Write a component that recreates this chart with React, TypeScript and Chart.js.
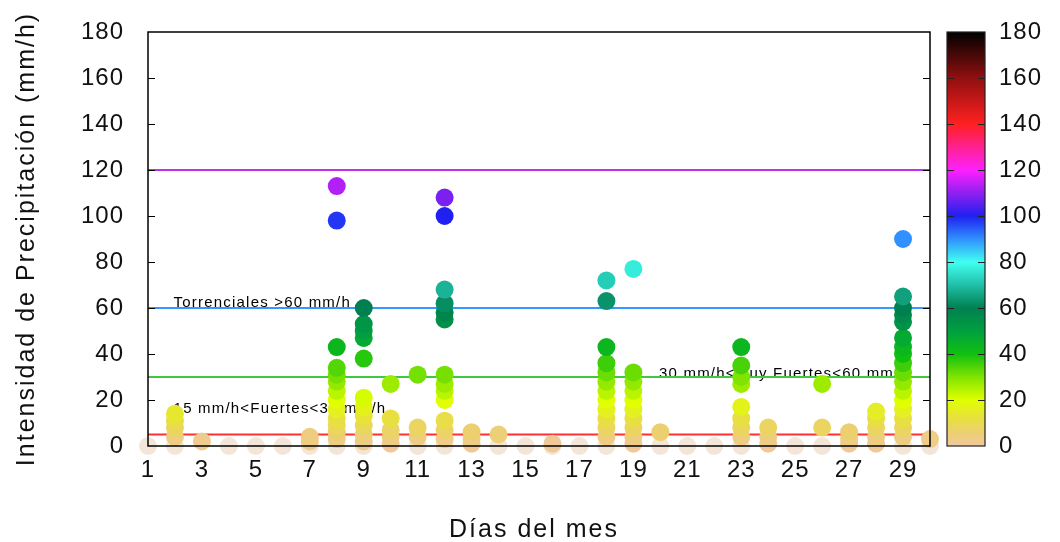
import React, { useEffect, useRef } from "react";
import { Chart, registerables } from "chart.js";

Chart.register(...registerables);

// ---- data ----
const days: number[] = Array.from({ length: 30 }, (_, i) => i + 1);

const rainByDay: number[][] = [
  [0],
  [0, 4, 8, 11, 14],
  [2],
  [0],
  [0],
  [0],
  [0, 2, 4],
  [0, 3, 6, 9, 12, 16, 20, 24, 28, 31, 34, 43, 98, 113],
  [0, 2, 5, 9, 13, 17, 21, 38, 47, 50, 53, 60],
  [1, 4, 7, 12, 27],
  [0, 4, 8, 31],
  [0, 3, 7, 11, 20, 24, 27, 31, 55, 58, 62, 68, 100, 108],
  [1, 3, 6],
  [0, 5],
  [0],
  [0, 1],
  [0],
  [0, 4, 8, 12, 16, 20, 24, 28, 32, 36, 43, 63, 72],
  [1, 4, 8, 12, 16, 20, 24, 28, 32, 77],
  [0, 6],
  [0],
  [0],
  [0, 4, 8, 12, 17, 27, 30, 35, 43],
  [1, 4, 8],
  [0],
  [0, 8, 27],
  [1, 3, 6],
  [1, 4, 8, 12, 15],
  [0, 4, 8, 12, 16, 20, 24, 28, 32, 36, 40, 43, 47, 54, 57, 60, 65, 90],
  [0, 3],
];

const xTickValues: number[] = [1, 3, 5, 7, 9, 11, 13, 15, 17, 19, 21, 23, 25, 27, 29];
const thresholdValues: number[] = [120, 60, 30, 5];
const thresholdColors: string[] = ["#c030f0", "#3399ff", "#40c840", "#ff3030"];
const annotationTexts: string[] = [
  "Torrenciales >60 mm/h",
  "30 mm/h<Muy Fuertes<60 mm/h",
  "15 mm/h<Fuertes<30 mm/h",
];
const xTitle = "Días del mes";
const yTitle = "Intensidad de Precipitación (mm/h)";

// palette (colour bar)
const paletteValues: number[] = [0, 6, 12, 20, 30, 40, 50, 60, 70, 80, 90, 100, 110, 120, 130, 140, 160, 180];
const paletteColors: string[] = [
  "#f2c8a0", "#ecd070", "#e8e040", "#e0ff00", "#80e400", "#10c010", "#00a040", "#008050",
  "#20c0a8", "#40fff0", "#3090ff", "#2020f0", "#9020f0", "#ff20ff", "#ff2090", "#ff2020",
  "#901010", "#000000",
];
const zeroColor = "#f3e6d8";

function hexToRgb(h: string): number[] {
  const n = parseInt(h.slice(1), 16);
  return [(n >> 16) & 255, (n >> 8) & 255, n & 255];
}

function colorFor(v: number): string {
  if (v <= 0) return zeroColor;
  for (let i = 0; i < paletteValues.length - 1; i++) {
    const a = paletteValues[i];
    const b = paletteValues[i + 1];
    if (v >= a && v <= b) {
      const t = (v - a) / (b - a);
      const ca = hexToRgb(paletteColors[i]);
      const cb = hexToRgb(paletteColors[i + 1]);
      const c = ca.map((x, k) => Math.round(x + (cb[k] - x) * t));
      return `rgb(${c[0]},${c[1]},${c[2]})`;
    }
  }
  return paletteColors[paletteColors.length - 1];
}

const FONT = "'Liberation Sans', Arial, sans-serif";

export default function App() {
  const ref = useRef<HTMLCanvasElement | null>(null);

  useEffect(() => {
    document.body.style.margin = "0";
    const canvas = ref.current;
    if (!canvas) return;

    const points: { x: number; y: number }[] = [];
    days.forEach((d, i) => {
      rainByDay[i].forEach((v) => points.push({ x: d, y: v }));
    });

    const lineSets = thresholdValues.map((v, i) => ({
      type: "line" as const,
      data: [
        { x: 1, y: v },
        { x: 30, y: v },
      ],
      borderColor: thresholdColors[i],
      borderWidth: 2,
      pointRadius: 0,
      order: 2,
      yAxisID: "y",
    }));

    const framePlugin = {
      id: "frame",
      beforeDraw(chart: any) {
        (chart.ctx as any).letterSpacing = "1px";
      },
      beforeDatasetsDraw(chart: any) {
        const { ctx, scales } = chart;
        const x = scales.x;
        const y = scales.y;
        ctx.save();
        ctx.letterSpacing = "1.2px";
        ctx.fillStyle = "#000";
        ctx.font = `15px ${FONT}`;
        ctx.textBaseline = "alphabetic";
        ctx.textAlign = "left";
        ctx.fillText(annotationTexts[0], x.getPixelForValue(1.95), y.getPixelForValue(60.5));
        ctx.fillText(annotationTexts[1], x.getPixelForValue(19.95), y.getPixelForValue(29.5));
        ctx.fillText(annotationTexts[2], x.getPixelForValue(1.95), y.getPixelForValue(14.5));
        ctx.restore();
      },
      afterDatasetsDraw(chart: any) {
        const { ctx, chartArea, scales } = chart;
        const y = scales.y;
        ctx.save();
        ctx.strokeStyle = "#000";
        ctx.lineWidth = 1.5;
        ctx.strokeRect(chartArea.left, chartArea.top, chartArea.right - chartArea.left, chartArea.bottom - chartArea.top);
        // inward ticks on left and right
        ctx.lineWidth = 1.2;
        for (let v = 20; v < 180; v += 20) {
          const py = Math.round(y.getPixelForValue(v)) + 0.5;
          ctx.beginPath();
          ctx.moveTo(chartArea.left, py);
          ctx.lineTo(chartArea.left + 7, py);
          ctx.moveTo(chartArea.right, py);
          ctx.lineTo(chartArea.right - 7, py);
          ctx.stroke();
        }
        // colour bar
        const cbL = chartArea.right + 17;
        const cbW = 38;
        const top = y.getPixelForValue(180);
        const bot = y.getPixelForValue(0);
        const g = ctx.createLinearGradient(0, bot, 0, top);
        paletteValues.forEach((v, i) => g.addColorStop(v / 180, paletteColors[i]));
        ctx.fillStyle = g;
        ctx.fillRect(cbL, top, cbW, bot - top);
        ctx.strokeStyle = "#222";
        ctx.lineWidth = 1.2;
        ctx.strokeRect(cbL, top, cbW, bot - top);
        for (let v = 20; v < 180; v += 20) {
          const py = Math.round(y.getPixelForValue(v)) + 0.5;
          ctx.beginPath();
          ctx.moveTo(cbL, py);
          ctx.lineTo(cbL + 7, py);
          ctx.moveTo(cbL + cbW, py);
          ctx.lineTo(cbL + cbW - 7, py);
          ctx.stroke();
        }
        // axis titles
        ctx.fillStyle = "#111";
        ctx.font = `25px ${FONT}`;
        ctx.letterSpacing = "2px";
        ctx.textAlign = "center";
        ctx.textBaseline = "middle";
        ctx.fillText(xTitle, (chartArea.left + chartArea.right) / 2 - 5, 530);
        ctx.translate(27, (chartArea.top + chartArea.bottom) / 2);
        ctx.rotate(-Math.PI / 2);
        ctx.fillText(yTitle, 0, 0);
        ctx.restore();
      },
      afterDraw(chart: any) {
        (chart.ctx as any).letterSpacing = "0px";
      },
    };

    const chart = new Chart(canvas, {
      type: "scatter",
      data: {
        datasets: [
          {
            type: "scatter",
            data: points,
            pointRadius: 9,
            pointHoverRadius: 9,
            borderWidth: 0,
            backgroundColor: (c: any) => colorFor(c.raw ? c.raw.y : 0),
            order: 1,
            clip: false,
            yAxisID: "y",
          } as any,
          ...lineSets,
        ],
      },
      options: {
        animation: false,
        responsive: false,
        events: [],
        layout: { padding: { left: 0, right: 0, top: 32, bottom: 0 } },
        plugins: { legend: { display: false }, tooltip: { enabled: false } },
        scales: {
          x: {
            type: "linear",
            min: 1,
            max: 30,
            grid: { display: false, drawTicks: false },
            border: { display: false },
            afterBuildTicks: (s: any) => {
              s.ticks = xTickValues.map((v) => ({ value: v }));
            },
            afterFit: (s: any) => {
              s.height = 96;
              s.paddingLeft = 0;
              s.paddingRight = 0;
            },
            ticks: {
              color: "#111",
              font: { family: FONT, size: 24 },
              padding: 10,
              maxRotation: 0,
              autoSkip: false,
            },
          },
          y: {
            type: "linear",
            position: "left",
            min: 0,
            max: 180,
            grid: { display: false, drawTicks: false },
            border: { display: false },
            afterFit: (s: any) => {
              s.width = 148;
              s.paddingTop = 0;
              s.paddingBottom = 0;
            },
            ticks: {
              stepSize: 20,
              color: "#111",
              font: { family: FONT, size: 24 },
              padding: 24,
            },
          },
          cb: {
            type: "linear",
            position: "right",
            min: 0,
            max: 180,
            grid: { display: false, drawTicks: false },
            border: { display: false },
            afterFit: (s: any) => {
              s.width = 130;
              s.paddingTop = 0;
              s.paddingBottom = 0;
            },
            ticks: {
              stepSize: 20,
              color: "#111",
              font: { family: FONT, size: 24 },
              padding: 69,
            },
          },
        },
      } as any,
      plugins: [framePlugin],
    });

    return () => chart.destroy();
  }, []);

  return <canvas ref={ref} width={1060} height={542} style={{ display: "block" }} />;
}
